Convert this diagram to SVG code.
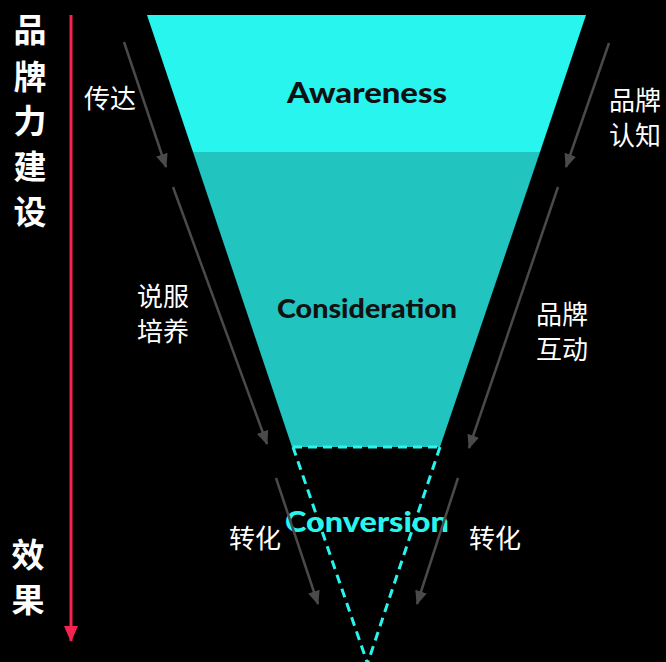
<svg xmlns="http://www.w3.org/2000/svg" width="666" height="662" viewBox="0 0 666 662">
<defs>
<marker id="ga" markerWidth="14" markerHeight="12" refX="13" refY="6" orient="auto" markerUnits="userSpaceOnUse">
<path d="M0,0 L14,6 L0,12 Z" fill="#4a4a4a"/>
</marker>
<marker id="ra" markerWidth="16" markerHeight="14" refX="15" refY="7" orient="auto" markerUnits="userSpaceOnUse">
<path d="M0,0 L16,7 L0,14 Z" fill="#f5234f"/>
</marker>
<style>
.stage{font-family:"Lato","Open Sans","Liberation Sans",sans-serif;font-weight:900;text-anchor:middle}
.lbl{font-family:"Noto Sans CJK SC","Noto Sans",sans-serif;font-size:26px;fill:#ffffff;text-anchor:middle}
.side{font-family:"Noto Sans CJK SC","Noto Sans",sans-serif;font-size:33px;font-weight:700;fill:#ffffff;text-anchor:middle}
.conn{stroke:#4a4a4a;stroke-width:2.5;fill:none;marker-end:url(#ga)}
.dash{stroke:#29f5ef;stroke-width:3;fill:none;stroke-dasharray:9 6}
</style>
</defs>
<rect width="666" height="662" fill="#000000"/>
<g id="awareness">
<polygon points="147,15 586,15 540,152 193,152" fill="#29f5ef"/>
<text class="stage" x="367" y="103" font-size="28" fill="#111111" textLength="160" lengthAdjust="spacingAndGlyphs">Awareness</text>
</g>
<g id="consideration">
<polygon points="193,152 540,152 440,447 292,447" fill="#22c4c0"/>
<text class="stage" x="367" y="318" font-size="26" fill="#111111" textLength="180" lengthAdjust="spacingAndGlyphs">Consideration</text>
</g>
<g id="conversion">
<path class="dash" d="M293,447 L440,447 M293,447 L367,662 M440,447 L368,662"/>
<text class="stage" x="367" y="532" font-size="28" fill="#29f5ef" textLength="164" lengthAdjust="spacingAndGlyphs">Conversion</text>
</g>
<g id="axis">
<line x1="71" y1="15" x2="71" y2="641" stroke="#f5234f" stroke-width="3" marker-end="url(#ra)"/>
<text class="side" x="30" y="42">品</text>
<text class="side" x="30" y="89">牌</text>
<text class="side" x="30" y="133">力</text>
<text class="side" x="30" y="179">建</text>
<text class="side" x="30" y="224">设</text>
<text class="side" x="28" y="567">效</text>
<text class="side" x="28" y="612">果</text>
</g>
<g id="connectors">
<line class="conn" x1="124" y1="42" x2="166" y2="167"/>
<line class="conn" x1="173" y1="187" x2="267" y2="444"/>
<line class="conn" x1="276" y1="478" x2="318" y2="604"/>
<line class="conn" x1="609" y1="43" x2="566" y2="167"/>
<line class="conn" x1="558" y1="187" x2="469" y2="448"/>
<line class="conn" x1="458" y1="478" x2="417" y2="604"/>
</g>
<g id="labels">
<text class="lbl" x="110" y="108">传达</text>
<text class="lbl" x="635" y="110">品牌</text>
<text class="lbl" x="635" y="145">认知</text>
<text class="lbl" x="163" y="306">说服</text>
<text class="lbl" x="163" y="341">培养</text>
<text class="lbl" x="562" y="324">品牌</text>
<text class="lbl" x="562" y="359">互动</text>
<text class="lbl" x="255" y="548">转化</text>
<text class="lbl" x="495" y="548">转化</text>
</g>
</svg>
